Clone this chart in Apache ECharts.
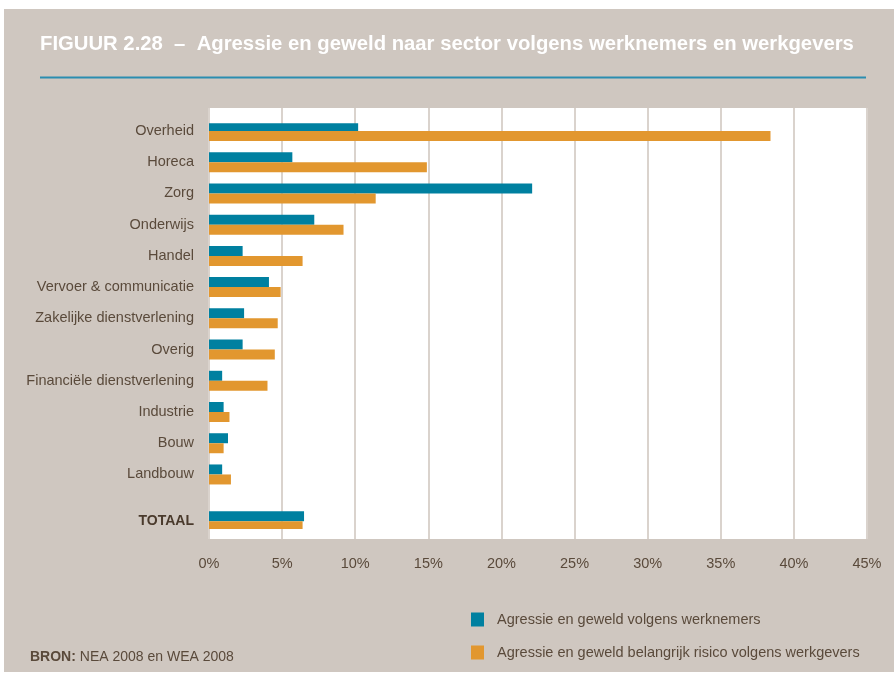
<!DOCTYPE html>
<html>
<head>
<meta charset="utf-8">
<script src="https://cdn.jsdelivr.net/npm/echarts@6/dist/echarts.min.js"></script>
<style>
  body { margin: 0; background: #fff; }
  .paper { position: absolute; left: 4px; top: 9px; width: 890px; height: 663px; background: #cfc7c0; }
  #chart { position: absolute; left: 0; top: 0; width: 894px; height: 677px; }
</style>
</head>
<body>
<div class="paper"></div>
<div id="chart"></div>
<script>
  // sectoren (van boven naar beneden)
  var sectors = ['Overheid', 'Horeca', 'Zorg', 'Onderwijs', 'Handel', 'Vervoer & communicatie',
    'Zakelijke dienstverlening', 'Overig', 'Financiële dienstverlening', 'Industrie', 'Bouw', 'Landbouw', 'TOTAAL'];
  // percentages
  var werknemers = [10.2, 5.7, 22.1, 7.2, 2.3, 4.1, 2.4, 2.3, 0.9, 1.0, 1.3, 0.9, 6.5];
  var werkgevers = [38.4, 14.9, 11.4, 9.2, 6.4, 4.9, 4.7, 4.5, 4.0, 1.4, 1.0, 1.5, 6.4];

  var nameA = 'Agressie en geweld volgens werknemers';
  var nameB = 'Agressie en geweld belangrijk risico volgens werkgevers';

  // elke rij krijgt twee halve plekken, TOTAAL staat een halve plek verder
  var cats = [], dataA = [], dataB = [];
  sectors.forEach(function (s, i) {
    if (i === sectors.length - 1) { cats.push(''); dataA.push('-'); dataB.push('-'); }
    cats.push(s); dataA.push(werknemers[i]); dataB.push(werkgevers[i]);
    if (i < sectors.length - 1) { cats.push(''); dataA.push('-'); dataB.push('-'); }
  });

  var textColor = '#5a4a3b';
  var font = 'Liberation Sans';
  var myChart = echarts.init(document.getElementById('chart'));
  var option = {
    animation: false,
    backgroundColor: 'transparent',
    title: [{
      text: 'FIGUUR 2.28  –  Agressie en geweld naar sector volgens werknemers en werkgevers',
      left: 35, top: 29,
      textStyle: { color: '#fff', fontSize: 20.3, fontWeight: 'bold', fontFamily: font }
    }, {
      text: '{b|BRON:} NEA 2008 en WEA 2008',
      left: 25, top: 645,
      textStyle: {
        color: textColor, fontSize: 14, fontWeight: 'normal', fontFamily: font,
        rich: { b: { fontWeight: 'bold', fontSize: 14, color: textColor, fontFamily: font } }
      }
    }],
    graphic: [{
      type: 'line',
      shape: { x1: 40, y1: 77.5, x2: 866, y2: 77.5 },
      style: { stroke: '#2a8db0', lineWidth: 2 }
    }],
    legend: {
      orient: 'vertical',
      left: 471, top: 612, padding: 0,
      itemWidth: 13, itemHeight: 14, itemGap: 18,
      icon: 'rect',
      data: [nameA, nameB],
      textStyle: { color: textColor, fontSize: 14.5, fontFamily: font, padding: [0, 0, 0, 8] }
    },
    grid: [
      { left: 209, top: 108, width: 658, height: 431, show: true, backgroundColor: '#fff', borderWidth: 0 },
      { left: 209, top: 123.2, width: 658, height: 405.9, show: false }
    ],
    xAxis: [{
      gridIndex: 0, type: 'value', min: 0, max: 45, interval: 5,
      axisLine: { show: false }, axisTick: { show: false },
      axisLabel: { formatter: '{value}%', color: textColor, fontSize: 14.5, margin: 17, fontFamily: font },
      splitLine: { lineStyle: { color: '#dad3cd', width: 2 } }
    }, {
      gridIndex: 1, type: 'value', min: 0, max: 45, show: false
    }],
    yAxis: [{
      gridIndex: 0, type: 'category', data: [''], show: false
    }, {
      gridIndex: 1, type: 'category', data: cats, inverse: true,
      axisLine: { show: false }, axisTick: { show: false },
      axisLabel: {
        interval: 0, margin: 15, color: textColor, fontSize: 14.5, fontFamily: font,
        formatter: function (v) { return v === 'TOTAAL' ? '{t|' + v + '}' : v; },
        rich: { t: { fontWeight: 'bold', fontSize: 14, color: '#4a3a2c', fontFamily: font } }
      }
    }],
    series: [{
      name: nameA, type: 'bar', xAxisIndex: 1, yAxisIndex: 1,
      data: dataA, barWidth: 10, barGap: '0%',
      itemStyle: { color: '#0080a0' }
    }, {
      name: nameB, type: 'bar', xAxisIndex: 1, yAxisIndex: 1,
      data: dataB, barWidth: 10, barGap: '0%',
      itemStyle: { color: '#e2972f' }
    }]
  };
  myChart.setOption(option);
</script>
</body>
</html>
